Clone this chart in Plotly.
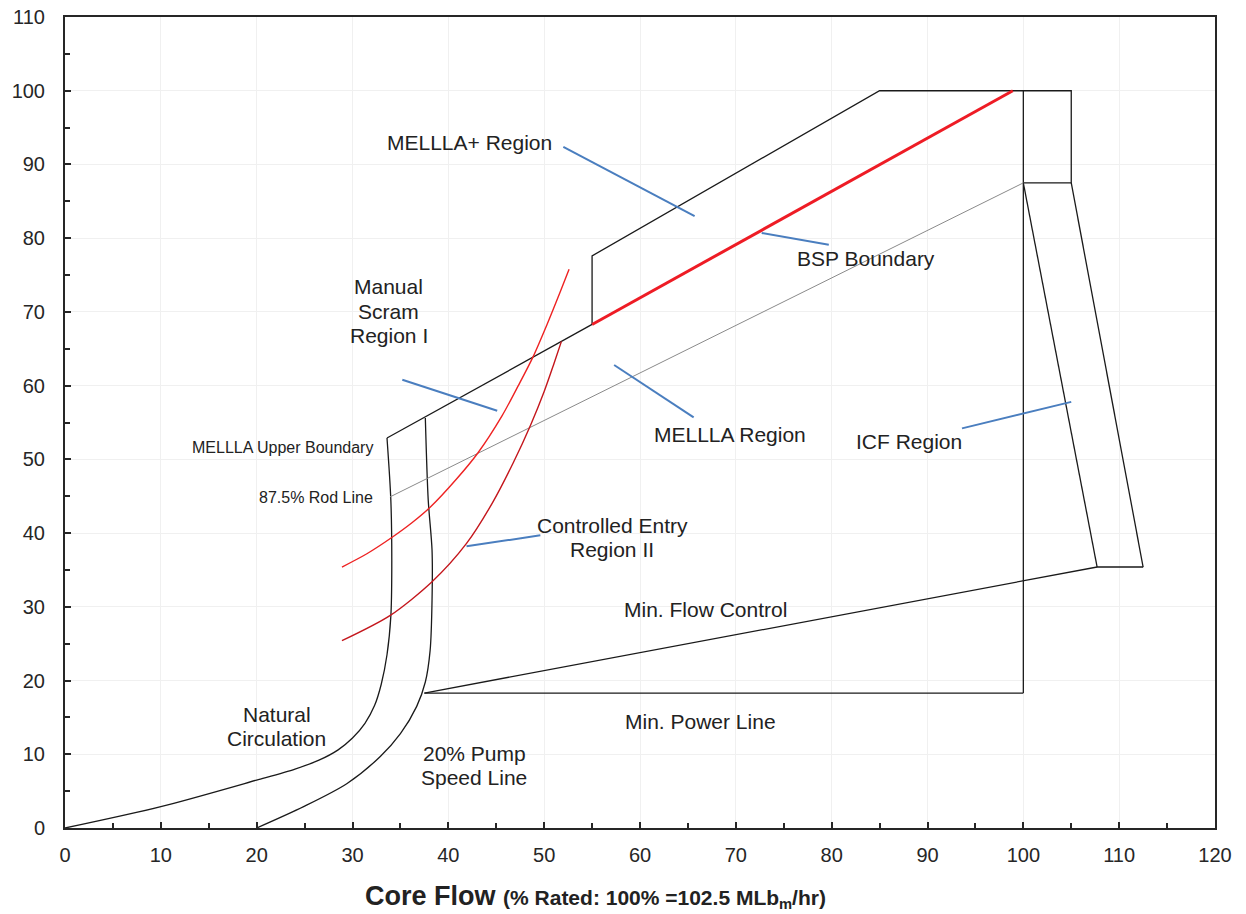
import plotly.graph_objects as go

# ---------------- data ----------------
nat_circ_x = [0, 10, 20, 24, 26.5, 28.5, 30.0, 31.3, 32.3, 33.0, 33.6, 34.0, 34.1, 34.0, 33.6]
nat_circ_y = [0, 2.9, 6.5, 8.0, 9.2, 10.6, 12.2, 14.2, 16.6, 19.5, 23.5, 28.7, 35.4, 44.5, 52.9]

pump20_x = [20, 24.9, 29.4, 32.9, 35.0, 36.7, 37.6, 38.1, 38.3, 38.3, 37.9, 37.6]
pump20_y = [0, 2.9, 6.0, 9.7, 12.8, 16.5, 19.8, 24.1, 30.9, 37.7, 44.5, 55.6]

mellla_upper_x = [33.6, 55.0]
mellla_upper_y = [52.9, 68.3]

bsp_x = [55.0, 98.9]
bsp_y = [68.3, 100.0]

mellla_plus_x = [55, 55, 85, 105, 105, 100]
mellla_plus_y = [68.3, 77.6, 100, 100, 87.5, 87.5]

rated_flow_x = [100, 100]
rated_flow_y = [100, 18.3]

min_power_x = [37.5, 100]
min_power_y = [18.3, 18.3]

min_flow_x = [37.5, 107.7, 112.5]
min_flow_y = [18.3, 35.4, 35.4]

icf_inner_x = [100, 107.7]
icf_inner_y = [87.5, 35.4]
icf_outer_x = [105, 112.5]
icf_outer_y = [87.5, 35.4]

rod_line_x = [33.9, 100]
rod_line_y = [44.9, 87.5]

scram_x = [28.9, 31.5, 34.1, 36.2, 38.1, 40.9, 43.1, 45.6, 47.3, 48.8, 50.3, 51.7, 52.6]
scram_y = [35.4, 37.2, 39.4, 41.4, 43.5, 47.4, 50.9, 55.9, 60.0, 63.8, 68.3, 72.8, 75.8]

entry_x = [28.9, 33.9, 38.3, 41.9, 44.6, 46.8, 48.6, 50.0, 51.0, 51.8]
entry_y = [25.4, 28.8, 33.4, 38.6, 44.1, 49.6, 54.7, 59.2, 62.9, 66.0]

# leader lines (start, end) for labels
leader_x = [52.0, 65.7, None, 72.7, 79.7, None, 35.2, 45.1, None,
            57.3, 65.6, None, 41.9, 49.6, None, 93.6, 105.0]
leader_y = [92.4, 83.0, None, 80.7, 79.1, None, 60.8, 56.6, None,
            62.8, 55.7, None, 38.2, 39.7, None, 54.2, 57.8]

# (lines of text, x centre, y centre)
labels = [
    (["MELLLA+ Region"], 42.2, 93.0),
    (["BSP Boundary"], 83.6, 77.2),
    (["Manual", "Scram", "Region I"], 33.8, 70.1),
    (["MELLLA Region"], 69.4, 53.4),
    (["ICF Region"], 88.1, 52.4),
    (["Controlled Entry", "Region II"], 57.1, 39.4),
    (["Min. Flow Control"], 66.8, 29.7),
    (["Min. Power Line"], 66.3, 14.5),
    (["Natural", "Circulation"], 22.1, 13.8),
    (["20% Pump", "Speed Line"], 42.7, 8.5),
]
small_labels = [
    ("MELLLA Upper Boundary", 32.3, 51.6),
    ("87.5% Rod Line", 32.3, 44.8),
]

x_ticks = list(range(0, 121, 10))
y_ticks = list(range(0, 111, 10))

# ---------------- figure ----------------
FONT = "Arial, 'Liberation Sans', sans-serif"
BLACK = "#1a1a1a"
LINE_SPACING = 24.5

fig = go.Figure()

def line(x, y, color=BLACK, width=1.3, shape="linear", smoothing=1.0):
    fig.add_trace(go.Scatter(x=x, y=y, mode="lines",
                             line=dict(color=color, width=width, shape=shape, smoothing=smoothing),
                             hoverinfo="skip", showlegend=False))

line(nat_circ_x, nat_circ_y, shape="spline", smoothing=0.8)
line(pump20_x, pump20_y, shape="spline", smoothing=0.8)
line(mellla_upper_x, mellla_upper_y)
line(mellla_plus_x, mellla_plus_y)
line(rated_flow_x, rated_flow_y)
line(min_power_x, min_power_y)
line(min_flow_x, min_flow_y)
line(icf_inner_x, icf_inner_y)
line(icf_outer_x, icf_outer_y)
line(rod_line_x, rod_line_y, color="#8a8a8a", width=1)
line(scram_x, scram_y, color="#ee2222", width=1.4, shape="spline", smoothing=0.8)
line(entry_x, entry_y, color="#c4161c", width=1.4, shape="spline", smoothing=0.8)
line(bsp_x, bsp_y, color="#ee1c25", width=3)
line(leader_x, leader_y, color="#4a7ebf", width=2)

for lines, x, y in labels:
    n = len(lines)
    for i, txt in enumerate(lines):
        shift = ((n - 1) / 2 - i) * LINE_SPACING
        fig.add_annotation(x=x, y=y, text=txt, showarrow=False, yshift=shift,
                           font=dict(family=FONT, size=21, color="#222222"),
                           xanchor="center", yanchor="middle", align="center")
for txt, x, y in small_labels:
    fig.add_annotation(x=x, y=y, text=txt, showarrow=False,
                       font=dict(family=FONT, size=16, color="#222222"),
                       xanchor="right", yanchor="middle")

fig.add_annotation(
    xref="paper", yref="paper", x=0.4617, y=-0.085,
    text="<b>Core Flow</b> <b><span style='font-size:21px'>(% Rated: 100% =102.5 MLb<sub>m</sub>/hr)</span></b>",
    showarrow=False, font=dict(family=FONT, size=27, color="#222222"),
    xanchor="center", yanchor="middle")

axis_common = dict(
    showline=True, linecolor="#262626", linewidth=2, mirror=True,
    ticks="inside", ticklen=6, tickwidth=1.5, tickcolor="#262626",
    showgrid=True, gridcolor="#f0f0f0", gridwidth=1,
    zeroline=False, automargin=False,
    tickfont=dict(family=FONT, size=20, color="#262626"),
    minor=dict(dtick=5, ticks="inside", ticklen=5, tickwidth=1.5, tickcolor="#262626", showgrid=False),
)

fig.update_xaxes(range=[0, 120], tickvals=x_ticks, ticktext=[str(v) for v in x_ticks],
                 ticklabelstandoff=8, **axis_common)
fig.update_yaxes(range=[0, 110], tickvals=y_ticks, ticktext=[str(v) for v in y_ticks],
                 ticklabelstandoff=14, **axis_common)

fig.update_layout(
    width=1246, height=914,
    margin=dict(l=65, r=31, t=17, b=86, autoexpand=False),
    paper_bgcolor="white", plot_bgcolor="white",
    font=dict(family=FONT),
    showlegend=False,
)

fig.write_html("out.html")
